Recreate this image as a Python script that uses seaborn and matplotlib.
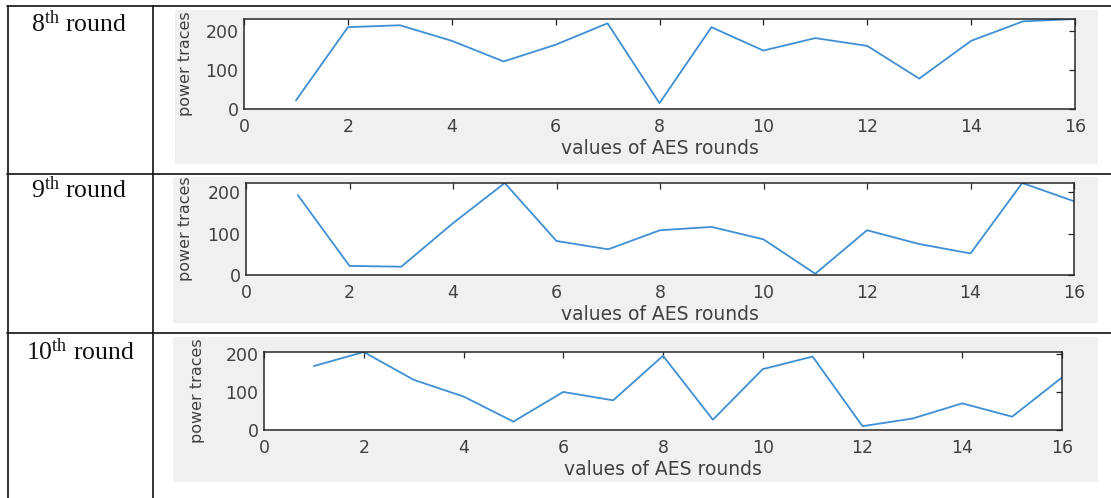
import matplotlib
matplotlib.use("Agg")
import matplotlib.pyplot as plt
from matplotlib.lines import Line2D
from matplotlib.patches import Rectangle
import seaborn as sns
import pandas as pd

# ---------------- data ----------------
aes_rounds = list(range(1, 17))
round_labels = ["8", "9", "10"]
trace_8th = [22, 210, 215, 175, 122, 165, 220, 15, 210, 150, 182, 162, 78, 175, 225, 231]
trace_9th = [193, 22, 20, 125, 222, 82, 62, 108, 116, 86, 3, 108, 75, 52, 222, 178]
trace_10th = [168, 205, 132, 88, 22, 100, 78, 195, 27, 160, 193, 10, 30, 70, 35, 138]
x_ticks = [0, 2, 4, 6, 8, 10, 12, 14, 16]
y_ticks = [0, 100, 200]
x_label = "values of AES rounds"
y_label = "power traces"

series = [trace_8th, trace_9th, trace_10th]

# ---------------- style ----------------
sns.set_style("white")
plt.rcParams["font.family"] = ["DejaVu Sans"]
plt.rcParams["mathtext.fontset"] = "custom"
plt.rcParams["mathtext.rm"] = "Liberation Serif"
plt.rcParams["mathtext.it"] = "Liberation Serif:italic"

W, H = 1111, 498
fig = plt.figure(figsize=(W / 100, H / 100), dpi=100)
fig.patch.set_facecolor("white")


def fx(px):
    return px / W


def fy(py):
    return 1 - py / H


# grey figure panels (MATLAB figure background)
panels = [(175, 10, 1098, 164), (173, 177, 1098, 323), (173, 337, 1098, 482)]
for (l, t, r, b) in panels:
    fig.add_artist(Rectangle((fx(l), fy(b)), fx(r - l), (b - t) / H,
                             transform=fig.transFigure, facecolor="#F0F0F0",
                             edgecolor="none", zorder=0))

# table lines
tl = dict(color="#111111", linewidth=1.2, transform=fig.transFigure, zorder=5)
for y in [6, 174, 333]:
    fig.add_artist(Line2D([fx(7), 1], [fy(y), fy(y)], **tl))
for x in [8, 153]:
    fig.add_artist(Line2D([fx(x), fx(x)], [fy(6), 0], **tl))

# row labels
row_text_pos = [(79, 24), (79, 190), (80, 352)]
for lab, (x, y) in zip(round_labels, row_text_pos):
    fig.text(fx(x), fy(y), r"$\mathrm{" + lab + r"}^{\mathrm{th}}$" + " round",
             ha="center", va="center", fontsize=18.5, family="Liberation Serif",
             color="#111111")

# axes rectangles (left, top, right, bottom) in pixels
axes_px = [(244, 19, 1075, 109), (246, 183, 1074, 275), (264, 352, 1062, 430)]
ylabel_right = [193, 193, 205]

line_color = "#3E8FD3"
tick_color = "#404040"

for vals, (l, t, r, b), ylr in zip(series, axes_px, ylabel_right):
    ax = fig.add_axes([fx(l), fy(b), fx(r - l), (b - t) / H])
    df = pd.DataFrame({"round": aes_rounds, "trace": vals})
    sns.lineplot(data=df, x="round", y="trace", ax=ax, color=line_color,
                 linewidth=1.3)
    ax.set_xlim(0, 16)
    ax.set_ylim(0, max(vals))
    ax.set_xticks(x_ticks)
    ax.set_yticks(y_ticks)
    ax.set_facecolor("white")
    for s in ax.spines.values():
        s.set_color("#262626")
        s.set_linewidth(1.1)
        s.set_visible(True)
    ax.tick_params(direction="in", length=4, width=0.9, color="#262626",
                   top=True, right=True, labelsize=12.5, labelcolor=tick_color)
    ax.tick_params(axis="x", pad=6.5)
    ax.tick_params(axis="y", pad=4)
    ax.set_xlabel(x_label, fontsize=13.5, color=tick_color, labelpad=2)
    ax.set_ylabel(y_label, fontsize=11.5, color=tick_color)
    ax.yaxis.set_label_coords((ylr - l) / (r - l), 0.5)

fig.savefig("out.png", dpi=100, facecolor="white")
